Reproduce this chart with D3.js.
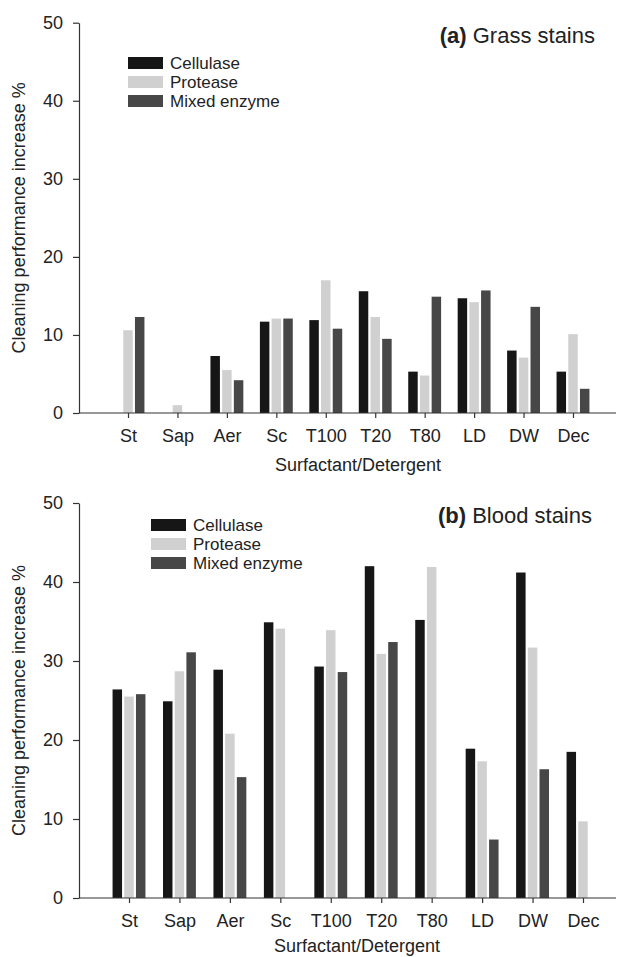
<!DOCTYPE html>
<html>
<head>
<meta charset="utf-8">
<script src="https://cdn.jsdelivr.net/npm/d3@7/dist/d3.min.js"></script>
<style>
  html, body { margin: 0; padding: 0; background: #fff; }
  svg { display: block; }
  text { font-family: "Liberation Sans", Arial, Helvetica, sans-serif; fill: #222; }
</style>
</head>
<body>
<svg id="chart" width="618" height="957"></svg>
<script>
const categories = ["St", "Sap", "Aer", "Sc", "T100", "T20", "T80", "LD", "DW", "Dec"];
const series = ["Cellulase", "Protease", "Mixed enzyme"];
const colors = ["#161616", "#cfd0cf", "#474747"];
const yTicks = [0, 10, 20, 30, 40, 50];

// (a) Grass stains
const grassCellulase = [0, 0, 7.3, 11.7, 11.9, 15.6, 5.3, 14.7, 8.0, 5.3];
const grassProtease  = [10.6, 1.0, 5.5, 12.1, 17.0, 12.3, 4.8, 14.2, 7.1, 10.1];
const grassMixed     = [12.3, 0, 4.2, 12.1, 10.8, 9.5, 14.9, 15.7, 13.6, 3.1];

// (b) Blood stains
const bloodCellulase = [26.4, 24.9, 28.9, 34.9, 29.3, 42.0, 35.2, 18.9, 41.2, 18.5];
const bloodProtease  = [25.5, 28.7, 20.8, 34.1, 33.9, 30.9, 41.9, 17.3, 31.7, 9.7];
const bloodMixed     = [25.8, 31.1, 15.3, 0, 28.6, 32.4, 0, 7.4, 16.3, 0];

const svg = d3.select("#chart");

function drawPanel(p) {
  const g = svg.append("g");
  const y = d3.scaleLinear().domain([0, 50]).range([p.y0, p.y50]);
  const x = d3.scalePoint().domain(categories).range([p.xFirst, p.xLast]);
  const sub = d3.scaleBand().domain(series).range([-17.55, 17.55])
    .paddingInner(0.19).paddingOuter(0.095);

  const rows = categories.map((c, i) => ({ c, vals: p.data.map(arr => arr[i]) }));

  // bars
  const grp = g.selectAll("g.cat").data(rows).join("g")
    .attr("transform", d => `translate(${x(d.c)},0)`);
  grp.selectAll("rect").data(d => d.vals.map((v, k) => ({ v, s: series[k], k })))
    .join("rect")
    .filter(d => d.v > 0)
    .attr("x", d => sub(d.s))
    .attr("width", sub.bandwidth())
    .attr("y", d => y(d.v))
    .attr("height", d => y(0) - y(d.v))
    .attr("fill", d => colors[d.k]);

  // y axis
  const ya = g.append("g").attr("transform", `translate(${p.xAxis},0)`)
    .call(d3.axisLeft(y).tickValues(yTicks).tickSize(6).tickPadding(10).tickSizeOuter(0));
  ya.select(".domain").attr("stroke", "#333").attr("stroke-width", 1.2);
  ya.selectAll(".tick line").attr("stroke", "#333").attr("stroke-width", 1.2);
  ya.selectAll(".tick text").attr("font-size", 18).attr("fill", "#222")
    .style("font-family", '"Liberation Sans", Arial, sans-serif');

  // x axis
  const xa = g.append("g").attr("transform", `translate(0,${p.y0})`)
    .call(d3.axisBottom(x).tickSize(5).tickPadding(11).tickSizeOuter(0));
  xa.select(".domain").attr("d", `M${p.xAxis},0H${p.xEnd}`)
    .attr("stroke", "#333").attr("stroke-width", 1.2);
  xa.selectAll(".tick line").attr("stroke", "#333").attr("stroke-width", 1.2);
  xa.selectAll(".tick text").attr("font-size", 18).attr("fill", "#222")
    .style("font-family", '"Liberation Sans", Arial, sans-serif');

  // axis titles
  g.append("text").attr("x", p.xTitleX).attr("y", p.xTitleY)
    .attr("text-anchor", "middle").attr("font-size", 18)
    .text("Surfactant/Detergent");
  g.append("text")
    .attr("transform", `translate(25,${(p.y0 + p.y50) / 2}) rotate(-90)`)
    .attr("text-anchor", "middle").attr("font-size", 18)
    .text("Cleaning performance increase %");

  // panel title
  const t = g.append("text").attr("x", p.titleX).attr("y", p.titleY)
    .attr("text-anchor", "end").attr("font-size", 22);
  t.append("tspan").attr("font-weight", "bold").text(p.tag);
  t.append("tspan").text(" " + p.title);

  // legend
  const lg = g.append("g").attr("transform", `translate(${p.legX},${p.legY})`);
  series.forEach((s, k) => {
    lg.append("rect").attr("x", 0).attr("y", k * 19).attr("width", 35).attr("height", 12)
      .attr("fill", colors[k]);
    lg.append("text").attr("x", 42).attr("y", k * 19 + 12).attr("font-size", 17).text(s);
  });
}

drawPanel({
  data: [grassCellulase, grassProtease, grassMixed],
  y0: 413, y50: 22.7, xAxis: 79, xEnd: 616, xFirst: 128, xLast: 573,
  xTitleX: 358, xTitleY: 471,
  titleX: 595, titleY: 43, tag: "(a)", title: "Grass stains",
  legX: 128, legY: 57
});

drawPanel({
  data: [bloodCellulase, bloodProtease, bloodMixed],
  y0: 898, y50: 503, xAxis: 79, xEnd: 616, xFirst: 129, xLast: 583,
  xTitleX: 357, xTitleY: 952,
  titleX: 592, titleY: 523, tag: "(b)", title: "Blood stains",
  legX: 151, legY: 519
});
</script>
</body>
</html>
